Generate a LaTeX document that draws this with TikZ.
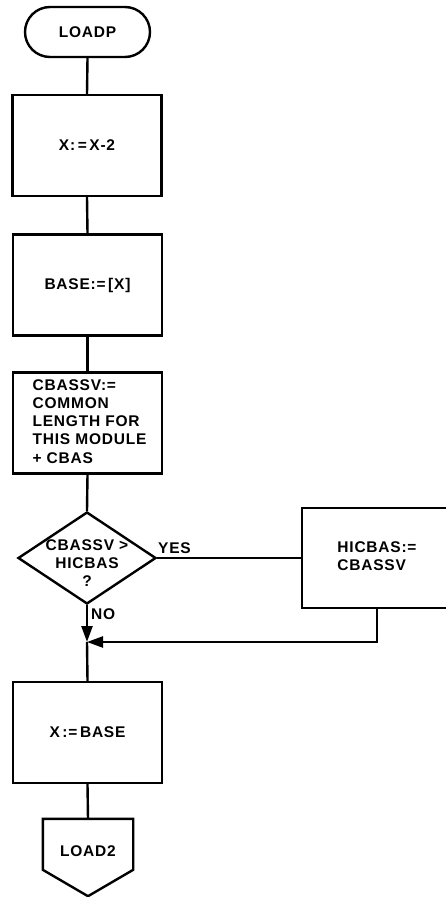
\documentclass[tikz,border=0pt]{standalone}
\usepackage{fontspec}
\setmainfont{Liberation Sans}[LetterSpace=5]
\usetikzlibrary{shapes.geometric,arrows.meta}
\begin{document}
\begin{tikzpicture}[x=1pt,y=-1pt,
  every node/.style={font=\fontsize{15.5}{18.3}\selectfont\bfseries},
  line/.style={line width=2.4pt},
  box/.style={draw,line width=2.4pt,rectangle,minimum width=149pt,minimum height=101pt,inner sep=0pt},
  term/.style={draw,line width=2.4pt,rectangle,rounded corners=25pt,minimum width=125pt,minimum height=50pt,inner sep=0pt},
  dec/.style={draw,line width=2.4pt,diamond,inner sep=0pt,minimum width=138pt,minimum height=92pt},
  arr/.style={line width=2.4pt,-{Triangle[length=16pt,width=11pt]}},
  lab/.style={inner sep=0pt}
]
\useasboundingbox (0,0) rectangle (445,897);
\node[term] (t) at (87.5,32) {LOADP};
\node[box] (b1) at (87,145.5) {X:\,=\,X-2};
\node[box] (b2) at (87.5,285) {BASE:=\,[X]};
\node[box,align=left] (b3) at (87.5,423) {\hspace*{4pt}\begin{tabular}{@{}l@{}}CBASSV:=\\COMMON\\LENGTH FOR\\THIS MODULE\\+ CBAS\end{tabular}};
\node[dec] (d) at (87,558) {};
\node[lab,align=center] (dt) at (87,563) {CBASSV >\\HICBAS\\?};
\node[box,minimum width=150pt,minimum height=100pt,align=left] (h) at (377,558) {\begin{tabular}{@{}l@{}}HICBAS:=\\CBASSV\end{tabular}};
\node[box] (b5) at (87.5,732.5) {X\,:=\,BASE};
\node[rectangle,minimum width=90pt,minimum height=77pt,inner sep=0pt] (l2) at (88,857.5) {};
\node[lab] (l2t) at (88,851) {LOAD2};
\node[lab,anchor=south west] (yes) at (158,554) {YES};
\node[lab,anchor=north west] (no) at (91,608) {NO};
\coordinate (j) at (87,642);
\coordinate (hc) at (377,642);
\draw[line,line join=miter] (l2.north west) -- (l2.north east) -- ([yshift=-51pt]l2.north east) -- (l2.south) -- ([yshift=-51pt]l2.north west) -- cycle;
\draw[line] (t.south) -- (b1.north);
\draw[line] (b1.south) -- (b2.north);
\draw[line] (b2.south) -- (b3.north);
\draw[line] (b3.south) -- (d.north);
\draw[line] (d.east) -- (h.west);
\draw[arr] (d.south) -- (j);
\draw[arr] (h.south) -- (hc) -- (j);
\draw[line] (j) -- (b5.north);
\draw[line] (b5.south) -- (l2.north);
\end{tikzpicture}
\end{document}
